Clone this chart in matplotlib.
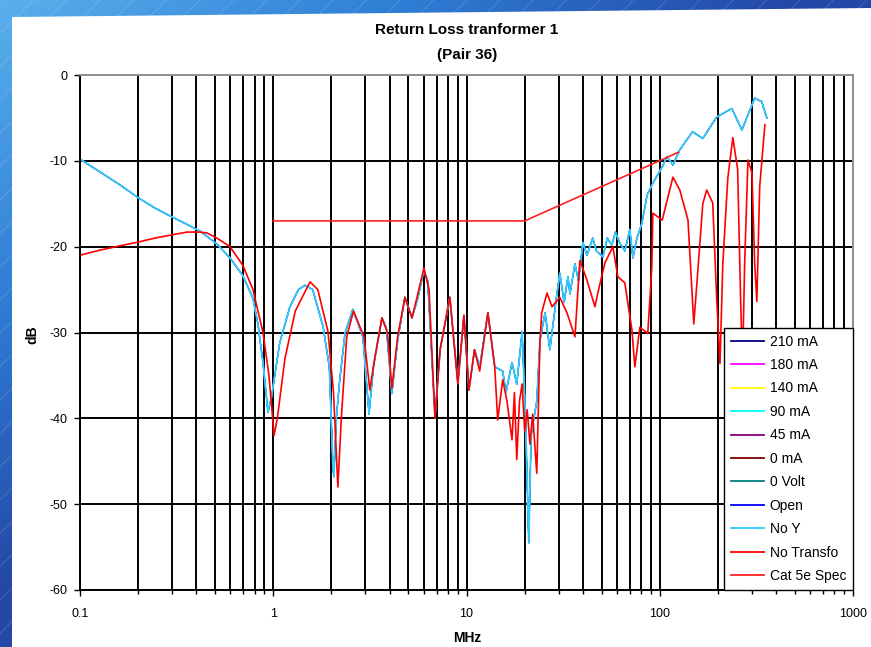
import numpy as np
import matplotlib
matplotlib.use("Agg")
import matplotlib.pyplot as plt
from matplotlib.colors import LinearSegmentedColormap
from matplotlib.patches import Polygon, Rectangle
from matplotlib.ticker import LogLocator, NullFormatter

# return loss, transformer 1, pair 36 (MHz, dB)
freq_noy = [0.1, 0.127, 0.161, 0.197, 0.244, 0.303, 0.358, 0.418, 0.454, 0.511,
            0.597, 0.697, 0.785, 0.833, 0.885, 0.939, 0.98, 1.08, 1.22, 1.35,
            1.46, 1.60, 1.81, 1.95, 2.04, 2.06, 2.12, 2.2, 2.35, 2.58,
            2.91, 3.13, 3.3, 3.65, 3.85, 4.11, 4.4, 4.8, 5.22, 5.6,
            6.02, 6.3, 6.87, 7.3, 8.2, 9.02, 9.7, 10.3, 11.0, 11.7,
            12.9, 14.0, 15.4, 16.0, 17.2, 18.2, 19.4, 20.2, 21.0, 21.6,
            23.1, 24.0, 25.5, 27.0, 29.4, 30.4, 32.0, 33.5, 34.3, 36.4,
            38.0, 40.0, 42.0, 45.0, 47.0, 50.8, 53.5, 56.5, 59.0, 62.2,
            66.0, 70.0, 72.6, 76.2, 80.8, 86.0, 92.1, 103, 109, 117,
            127, 148, 167, 197, 236, 266, 310, 337, 358]
db_noy = [-9.8, -11.3, -12.8, -14.2, -15.5, -16.6, -17.4, -18.2, -18.8, -19.7,
          -21.3, -23.4, -26.0, -29.0, -33.5, -39.3, -37.5, -31.2, -27.0, -25.0,
          -24.5, -25.0, -29.3, -34.0, -46.0, -46.8, -40.0, -35.9, -30.1, -27.3,
          -30.5, -39.5, -34.0, -28.3, -29.5, -37.1, -31.0, -25.9, -28.3, -26.0,
          -22.7, -24.0, -39.8, -32.0, -25.9, -35.9, -28.0, -36.7, -32.0, -34.0,
          -27.7, -34.0, -34.5, -37.0, -33.5, -36.0, -29.9, -40.0, -54.5, -42.0,
          -38.0, -30.9, -27.7, -32.0, -25.4, -23.1, -26.5, -23.5, -25.5, -22.0,
          -24.0, -19.5, -21.0, -19.0, -20.5, -21.2, -19.0, -19.8, -18.3, -19.6,
          -20.5, -18.0, -21.3, -19.0, -17.3, -14.0, -12.6, -10.7, -9.5, -10.5,
          -8.7, -6.6, -7.4, -4.9, -3.9, -6.4, -2.7, -3.1, -5.0]

freq_notransfo = [0.1, 0.127, 0.161, 0.197, 0.244, 0.303, 0.358, 0.418, 0.454, 0.511,
                  0.597, 0.697, 0.785, 0.885, 0.95, 1.01, 1.05, 1.15, 1.3, 1.55,
                  1.70, 1.92, 2.05, 2.16, 2.25, 2.40, 2.60, 2.95, 3.16, 3.35,
                  3.65, 3.90, 4.11, 4.40, 4.80, 5.22, 5.6, 6.02, 6.4, 6.87,
                  7.3, 8.2, 9.02, 9.7, 10.3, 11.0, 11.7, 12.9, 14.0, 14.5,
                  15.4, 16.2, 17.2, 17.7, 18.2, 18.8, 19.4, 20.0, 20.6, 21.3,
                  22.0, 23.1, 24.0, 24.5, 26.1, 27.7, 30.4, 33.1, 36.4, 38.6,
                  42.0, 46.2, 47.8, 52.0, 57.2, 60.7, 65.9, 71.8, 74.3, 78.9,
                  86.7, 91.0, 92.1, 103, 117, 127, 140, 150, 156, 167,
                  175, 188, 197, 205, 212, 225, 239, 253, 262, 268,
                  275, 286, 300, 310, 318, 329, 350]
db_notransfo = [-21.0, -20.4, -19.9, -19.5, -19.0, -18.6, -18.3, -18.3, -18.4, -19.0,
                -20.0, -22.2, -25.0, -30.0, -35.0, -42.0, -40.0, -33.0, -27.5, -24.1,
                -25.0, -29.9, -37.0, -48.0, -40.0, -30.5, -27.5, -30.5, -36.7, -33.0,
                -28.3, -30.0, -36.5, -30.5, -25.9, -28.3, -25.5, -22.5, -25.0, -40.0,
                -32.0, -25.9, -36.0, -28.0, -36.7, -32.0, -34.5, -27.7, -34.0, -40.2,
                -35.5, -38.0, -42.5, -37.0, -44.8, -38.0, -36.0, -41.5, -39.0, -43.0,
                -39.5, -46.4, -31.0, -27.7, -25.4, -27.0, -25.9, -27.7, -30.5, -21.6,
                -23.9, -27.0, -25.4, -21.9, -20.0, -23.5, -24.2, -29.7, -34.0, -29.4,
                -30.1, -22.4, -16.1, -16.9, -11.9, -13.4, -16.9, -29.0, -24.0, -15.0,
                -13.4, -14.9, -26.0, -33.6, -22.0, -12.0, -7.3, -11.0, -26.0, -34.0,
                -22.0, -9.9, -11.4, -22.0, -26.4, -13.0, -5.8]

spec_freq = [1, 20, 125]
spec_db = [-17, -17, -9]

current_labels = ["210 mA", "180 mA", "140 mA", "90 mA", "45 mA", "0 mA", "0 Volt", "Open"]
current_colors = ["#000080", "#FF00FF", "#FFFF00", "#00FFFF", "#800080", "#800000",
                  "#008080", "#0000FF"]

plt.rcParams["font.family"] = ["Liberation Sans", "DejaVu Sans"]
plt.rcParams["axes.unicode_minus"] = False
plt.rcParams["hatch.linewidth"] = 0.6

W, H = 871, 647
fig = plt.figure(figsize=(W / 100, H / 100), dpi=100)

# blue backdrop with a white panel on top of it
bg = fig.add_axes([0, 0, 1, 1], zorder=-10)
gx, gy = np.meshgrid(np.linspace(0, 1, 400), np.linspace(0, 1, 400))
shade = np.clip(gx * 1.1 + gy * 1.1, 0, 1)
blues = LinearSegmentedColormap.from_list("blues", ["#5ab0ec", "#2f7fd6", "#2448a8"])
bg.imshow(shade, cmap=blues, extent=[0, 1, 0, 1], aspect="auto", origin="upper")
bg.add_patch(Rectangle((0, 0), 1, 1, fill=False, hatch="/", edgecolor=(1, 1, 1, 0.18), lw=0))
bg.add_patch(Polygon([(12 / W, 0), (12 / W, 1 - 17 / H), (1, 1 - 8 / H), (1, 0)],
                     facecolor="white", edgecolor="none"))
bg.set_xlim(0, 1)
bg.set_ylim(0, 1)
bg.axis("off")

ax = fig.add_axes([80 / W, 57 / H, 773 / W, 515 / H])
ax.set_xscale("log")

# the current series sit underneath the No Y trace
for label, color in zip(current_labels, current_colors):
    ax.plot(freq_noy, db_noy, color=color, lw=0.7, label=label)
ax.plot(freq_noy, db_noy, color="#33CCFF", lw=1.3, label="No Y")
ax.plot(freq_notransfo, db_notransfo, color="#FF0000", lw=1.2, label="No Transfo")
ax.plot(spec_freq, spec_db, color="#FF2020", lw=1.2, label="Cat 5e Spec")

ax.set_xlim(0.1, 1000)
ax.set_ylim(-60, 0)
ax.set_yticks(range(-60, 1, 10))
ax.set_xticks([0.1, 1, 10, 100, 1000])
ax.set_xticklabels(["0.1", "1", "10", "100", "1000"])
ax.xaxis.set_minor_locator(LogLocator(base=10, subs=range(2, 10)))
ax.xaxis.set_minor_formatter(NullFormatter())
ax.grid(True, which="both", axis="x", color="black", lw=1.4)
ax.grid(True, which="major", axis="y", color="black", lw=1.4)
ax.set_axisbelow(True)

ax.tick_params(axis="both", which="major", direction="out", length=4, width=1,
               labelsize=9)
ax.tick_params(axis="x", which="major", pad=9)
ax.tick_params(axis="y", which="major", pad=5)
ax.tick_params(axis="x", which="minor", direction="out", length=3, width=1)
for side in ["top", "right"]:
    ax.spines[side].set_color("#909090")
    ax.spines[side].set_linewidth(1.4)
for side in ["left", "bottom"]:
    ax.spines[side].set_color("black")
    ax.spines[side].set_linewidth(1.4)

leg = ax.legend(loc="lower right", bbox_to_anchor=(1, 0), borderaxespad=0, fontsize=10,
                fancybox=False, framealpha=1, edgecolor="black", handlelength=2.4,
                handletextpad=0.4, labelspacing=0.68, borderpad=0.5)
leg.get_frame().set_linewidth(1.0)
for handle in leg.get_lines():
    handle.set_linewidth(1.3)

fig.text(467 / W, 1 - 30 / H, "Return Loss tranformer 1", ha="center", va="center",
         fontsize=11, weight="bold")
fig.text(467 / W, 1 - 55 / H, "(Pair 36)", ha="center", va="center",
         fontsize=11, weight="bold")
fig.text(467 / W, 1 - 638 / H, "MHz", ha="center", va="center", fontsize=10, weight="bold")
fig.text(32 / W, 1 - 335 / H, "dB", ha="center", va="center", rotation=90,
         fontsize=10, weight="bold")

fig.savefig("out.png", dpi=100)
